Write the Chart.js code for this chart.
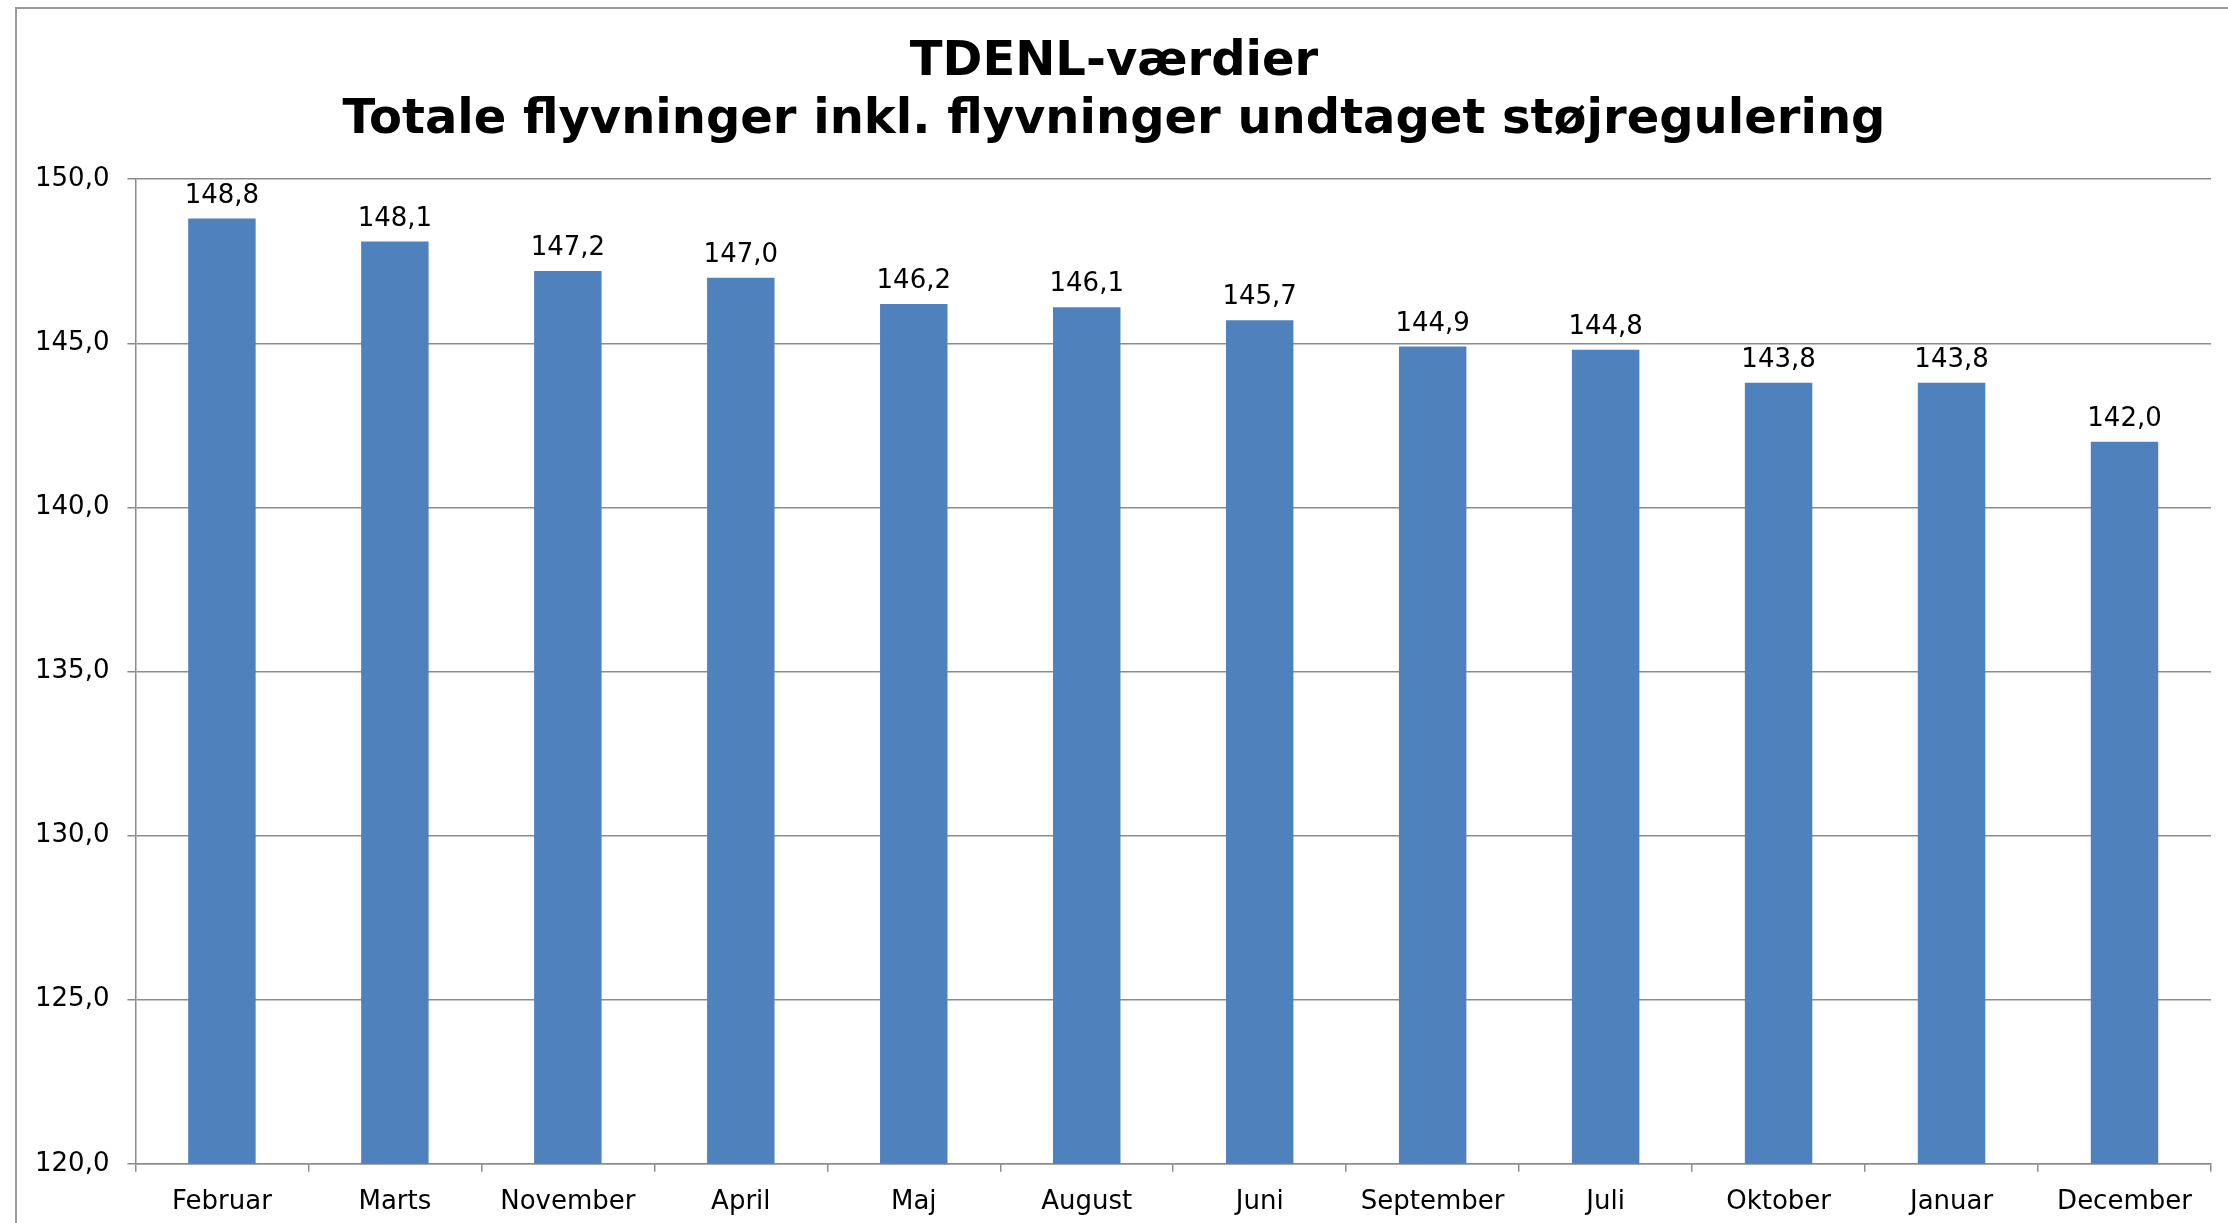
<!DOCTYPE html>
<html>
<head>
<meta charset="utf-8">
<script src="https://cdn.jsdelivr.net/npm/chart.js@4/dist/chart.umd.min.js"></script>
<style>
  body { margin: 0; background: #fff; overflow: hidden; }
  #frame { position: absolute; left: 15px; top: 7px; width: 2300px; height: 1300px; border: 2px solid #9a9a9a; }
  #wrap { position: absolute; left: 0; top: 0; width: 2228px; height: 1223px; }
</style>
</head>
<body>
<div id="frame"></div>
<div id="wrap"><canvas id="chart"></canvas></div>
<script>
var months = ['Februar', 'Marts', 'November', 'April', 'Maj', 'August', 'Juni', 'September', 'Juli', 'Oktober', 'Januar', 'December'];
var values = [148.8, 148.1, 147.2, 147.0, 146.2, 146.1, 145.7, 144.9, 144.8, 143.8, 143.8, 142.0];
var titleLines = ['TDENL-værdier', 'Totale flyvninger inkl. flyvninger undtaget støjregulering'];

function fmt(v) {
    return v.toFixed(1).replace('.', ',');
}

// draws the value above each bar
var barLabels = {
    id: 'barLabels',
    afterDatasetsDraw: function(chart) {
        var ctx = chart.ctx;
        var meta = chart.getDatasetMeta(0);
        ctx.save();
        ctx.font = '26px "DejaVu Sans"';
        ctx.fillStyle = '#000';
        ctx.textAlign = 'center';
        ctx.textBaseline = 'alphabetic';
        meta.data.forEach(function(bar, i) {
            ctx.fillText(fmt(values[i]), bar.x, bar.y - 16);
        });
        ctx.restore();
    }
};

var ctx = document.getElementById('chart');
var myChart = new Chart(ctx, {
    type: 'bar',
    data: {
        labels: months,
        datasets: [{
            data: values,
            backgroundColor: '#4f81bd',
            borderWidth: 0,
            categoryPercentage: 1,
            barPercentage: 0.39
        }]
    },
    options: {
        responsive: true,
        maintainAspectRatio: false,
        animation: false,
        layout: { padding: { left: 17, right: 17, top: 34, bottom: -10 } },
        plugins: {
            legend: { display: false },
            tooltip: { enabled: false },
            title: {
                display: true,
                text: titleLines,
                color: '#000',
                font: { family: 'DejaVu Sans', size: 48, weight: 'bold', lineHeight: 1.2 },
                padding: { top: 0, bottom: 30 }
            }
        },
        scales: {
            x: {
                grid: { display: true, offset: true, drawOnChartArea: false, drawTicks: true, tickLength: 8, color: '#8c8c8c', lineWidth: 1.5 },
                border: { display: true, color: '#8c8c8c', width: 1.5 },
                ticks: { color: '#000', font: { family: 'DejaVu Sans', size: 26 }, padding: 15, maxRotation: 0, autoSkip: false }
            },
            y: {
                min: 120,
                max: 150,
                grid: { color: '#8c8c8c', lineWidth: 1.5, tickLength: 8 },
                border: { display: true, color: '#8c8c8c', width: 1.5 },
                ticks: {
                    stepSize: 5,
                    color: '#000',
                    padding: 18,
                    font: { family: 'DejaVu Sans', size: 26 },
                    callback: function(v) { return fmt(v); }
                }
            }
        }
    },
    plugins: [barLabels]
});
</script>
</body>
</html>
